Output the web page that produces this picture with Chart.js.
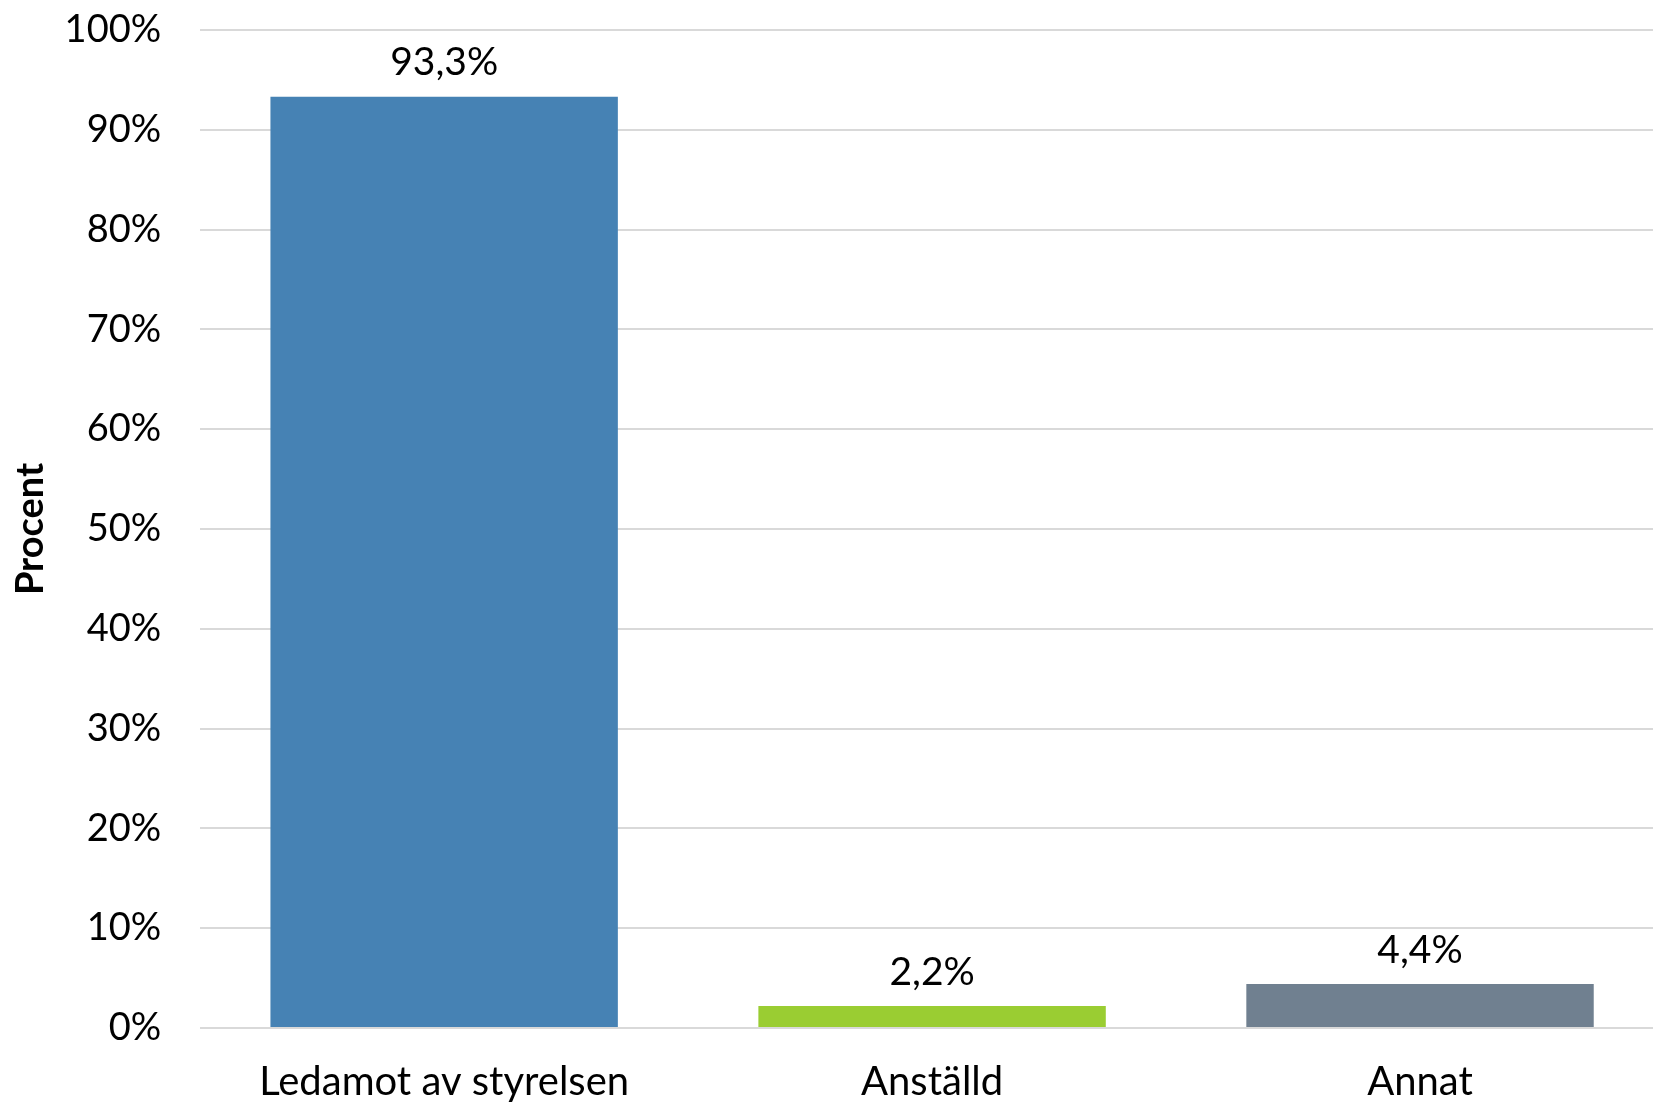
<!DOCTYPE html>
<html>
<head>
<meta charset="utf-8">
<script src="https://cdn.jsdelivr.net/npm/chart.js@4"></script>
<style>
html,body{margin:0;padding:0;background:#fff;overflow:hidden;}
#wrap{width:1653px;height:1104px;position:relative;overflow:hidden;}
#c{position:absolute;left:0;top:0;}
</style>
</head>
<body>
<div id="wrap"><canvas id="c" width="1664" height="1104"></canvas></div>
<script>
const categories = ["Ledamot av styrelsen", "Anställd", "Annat"];
const values = [93.3, 2.2, 4.4];
const barColors = ["#4682B4", "#9ACD32", "#708090"];
const yTicks = [0, 10, 20, 30, 40, 50, 60, 70, 80, 90, 100];
const yTitle = "Procent";

const FONT = "Lato, 'Open Sans', sans-serif";

const valueLabels = {
  id: 'valueLabels',
  afterDatasetsDraw(chart) {
    const ctx = chart.ctx;
    const meta = chart.getDatasetMeta(0);
    ctx.save();
    ctx.font = "39px " + FONT;
    ctx.fillStyle = "#000";
    ctx.textAlign = "center";
    ctx.textBaseline = "middle";
    meta.data.forEach((bar, i) => {
      const v = chart.data.datasets[0].data[i];
      ctx.fillText(v.toFixed(1).replace('.', ',') + '%', bar.x, bar.y - 34);
    });
    ctx.restore();
  }
};

new Chart(document.getElementById('c'), {
  type: 'bar',
  data: {
    labels: categories,
    datasets: [{
      data: values,
      backgroundColor: barColors,
      borderWidth: 0,
      barPercentage: 0.712,
      categoryPercentage: 1.0
    }]
  },
  options: {
    responsive: false,
    devicePixelRatio: 1,
    animation: false,
    layout: { padding: { top: 30, right: 0, bottom: 0, left: 8 } },
    plugins: { legend: { display: false }, tooltip: { enabled: false } },
    scales: {
      x: {
        grid: { display: true, drawOnChartArea: false, drawTicks: true, tickLength: 32, color: "rgba(0,0,0,0)", tickColor: "rgba(0,0,0,0)" },
        border: { display: false },
        ticks: { color: "#000", font: { family: FONT, size: 40, lineHeight: 1.1 }, padding: 0, maxRotation: 0 }
      },
      y: {
        min: 0, max: 100,
        afterBuildTicks(scale) { scale.ticks = yTicks.map(v => ({ value: v })); },
        grid: { color: "#d9d9d9", lineWidth: 2, drawTicks: true, tickLength: 39, tickColor: "rgba(0,0,0,0)" },
        border: { display: false },
        ticks: {
          color: "#000",
          font: { family: FONT, size: 38 },
          padding: 0,
          callback: v => v + '%'
        },
        title: {
          display: true,
          text: yTitle,
          color: "#000",
          font: { family: FONT, size: 38, weight: 'bold' },
          padding: { top: 0, bottom: 11 }
        }
      }
    }
  },
  plugins: [valueLabels]
});
</script>
</body>
</html>
